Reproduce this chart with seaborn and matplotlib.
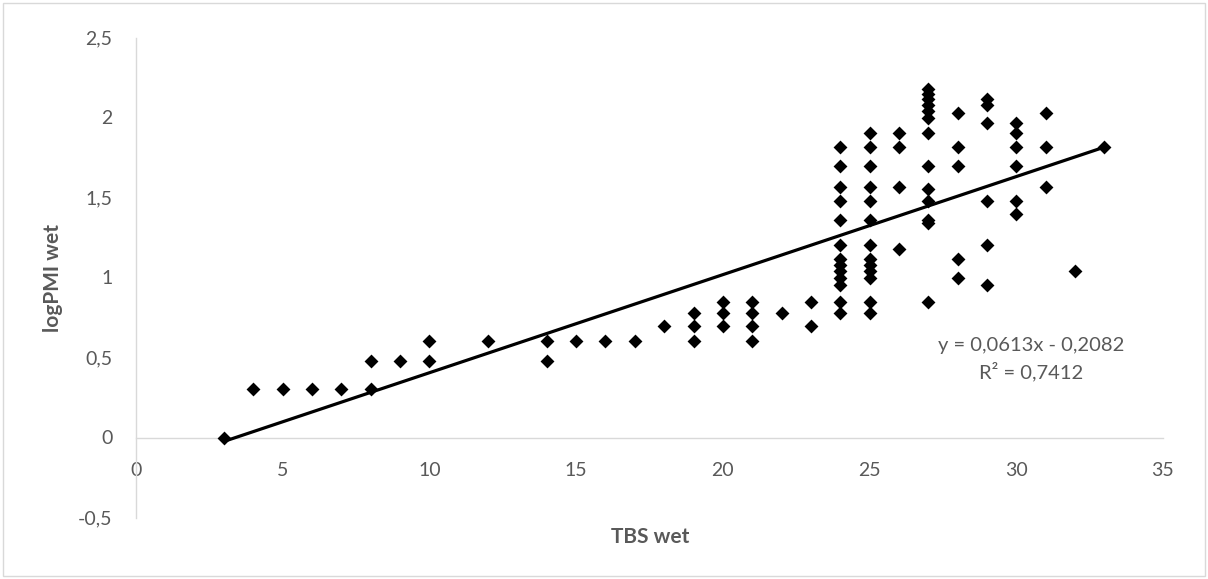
import numpy as np
import pandas as pd
import matplotlib
matplotlib.use("Agg")
import matplotlib.pyplot as plt
import seaborn as sns
from matplotlib.patches import Rectangle

# ---- data ----
tbs_wet = [3, 4, 5, 6, 7, 8, 8, 9, 10, 10, 12, 14, 14, 15, 16, 17, 18,
           19, 19, 19, 20, 20, 20, 21, 21, 21, 21, 22, 23, 23,
           24, 24, 24, 24, 24, 24, 24, 24, 24, 24, 24, 24, 24,
           25, 25, 25, 25, 25, 25, 25, 25, 25, 25, 25, 25, 25,
           26, 26, 26, 26,
           27, 27, 27, 27, 27, 27, 27, 27, 27, 27, 27, 27, 27,
           28, 28, 28, 28, 28,
           29, 29, 29, 29, 29, 29,
           30, 30, 30, 30, 30, 30,
           31, 31, 31, 32, 33]
logpmi_wet = [0.0, 0.301, 0.301, 0.301, 0.301, 0.301, 0.477, 0.477, 0.477, 0.602, 0.602, 0.477, 0.602,
              0.602, 0.602, 0.602, 0.699,
              0.602, 0.699, 0.778, 0.699, 0.778, 0.845, 0.602, 0.699, 0.778, 0.845, 0.778, 0.699, 0.845,
              0.778, 0.845, 0.954, 1.0, 1.041, 1.079, 1.114, 1.204, 1.362, 1.477, 1.568, 1.699, 1.813,
              0.778, 0.845, 1.0, 1.079, 1.114, 1.204, 1.362, 1.477, 1.568, 1.699, 1.813, 1.903, 1.041,
              1.176, 1.568, 1.813, 1.903,
              0.845, 1.342, 1.362, 1.477, 1.556, 1.699, 1.903, 2.0, 2.041, 2.079, 2.114, 2.146, 2.176,
              1.0, 1.114, 1.699, 1.813, 2.03,
              0.954, 1.204, 1.477, 1.968, 2.079, 2.114,
              1.398, 1.477, 1.699, 1.813, 1.903, 1.968,
              1.568, 1.813, 2.03, 1.041, 1.813]

trend_slope = 0.0613
trend_intercept = -0.2082
r_squared = 0.7412

x_ticks = [0, 5, 10, 15, 20, 25, 30, 35]
y_ticks = [-0.5, 0, 0.5, 1, 1.5, 2, 2.5]
y_tick_labels = ["-0,5", "0", "0,5", "1", "1,5", "2", "2,5"]

# ---- styling ----
sns.set_theme(style="white")
plt.rcParams["font.family"] = ["Lato", "DejaVu Sans"]
TXT = "#595959"
AXC = "#d9d9d9"

W, H = 1208, 579
fig = plt.figure(figsize=(W / 100, H / 100), dpi=100)
ax = fig.add_axes([136 / W, 1 - 517.5 / H, (1163 - 136) / W, (517.5 - 37.5) / H])

df = pd.DataFrame({"x": tbs_wet, "y": logpmi_wet})
sns.scatterplot(data=df, x="x", y="y", marker="D", color="black", s=50,
                linewidth=0, ax=ax, zorder=3)

xl = np.array([min(tbs_wet), max(tbs_wet)], dtype=float)
line_df = pd.DataFrame({"x": xl, "y": trend_slope * xl + trend_intercept})
sns.lineplot(data=line_df, x="x", y="y", color="black", linewidth=2.3, ax=ax, zorder=4)

ax.set_xlim(0, 35)
ax.set_ylim(-0.5, 2.5)
ax.set_xticks(x_ticks)
ax.set_xticklabels([str(t) for t in x_ticks])
ax.set_yticks(y_ticks)
ax.set_yticklabels(y_tick_labels)
ax.tick_params(axis="both", length=0, labelsize=14, labelcolor=TXT)
ax.tick_params(axis="y", pad=17)
ax.tick_params(axis="x", pad=18)

for s in ["top", "right"]:
    ax.spines[s].set_visible(False)
ax.spines["left"].set_color(AXC)
ax.spines["left"].set_linewidth(1.0)
ax.spines["bottom"].set_color(AXC)
ax.spines["bottom"].set_linewidth(1.0)
ax.spines["bottom"].set_position(("data", 0))
ax.grid(False)

ax.set_xlabel("")
ax.set_ylabel("logPMI wet", fontsize=15, fontweight="bold", color=TXT)
ax.yaxis.set_label_coords((63 - 136) / (1163 - 136), 0.5)
fig.text(650 / W, 1 - 537 / H, "TBS wet", ha="center", va="center",
         fontsize=15, fontweight="bold", color=TXT)

eq = "y = {}x - {}".format(f"{trend_slope:.4f}".replace(".", ","),
                            f"{abs(trend_intercept):.4f}".replace(".", ","))
r2 = "R² = {}".format(f"{r_squared:.4f}".replace(".", ","))
fig.text(1031 / W, 1 - 345 / H, eq, ha="center", va="center", fontsize=14.5, color=TXT)
fig.text(1031 / W, 1 - 372 / H, r2, ha="center", va="center", fontsize=14.5, color=TXT)

fig.patches.append(Rectangle((3 / W, 3 / H), (W - 6) / W, (H - 6) / H,
                             transform=fig.transFigure, fill=False,
                             edgecolor=AXC, linewidth=1.0))

fig.savefig("out.png", dpi=100)
